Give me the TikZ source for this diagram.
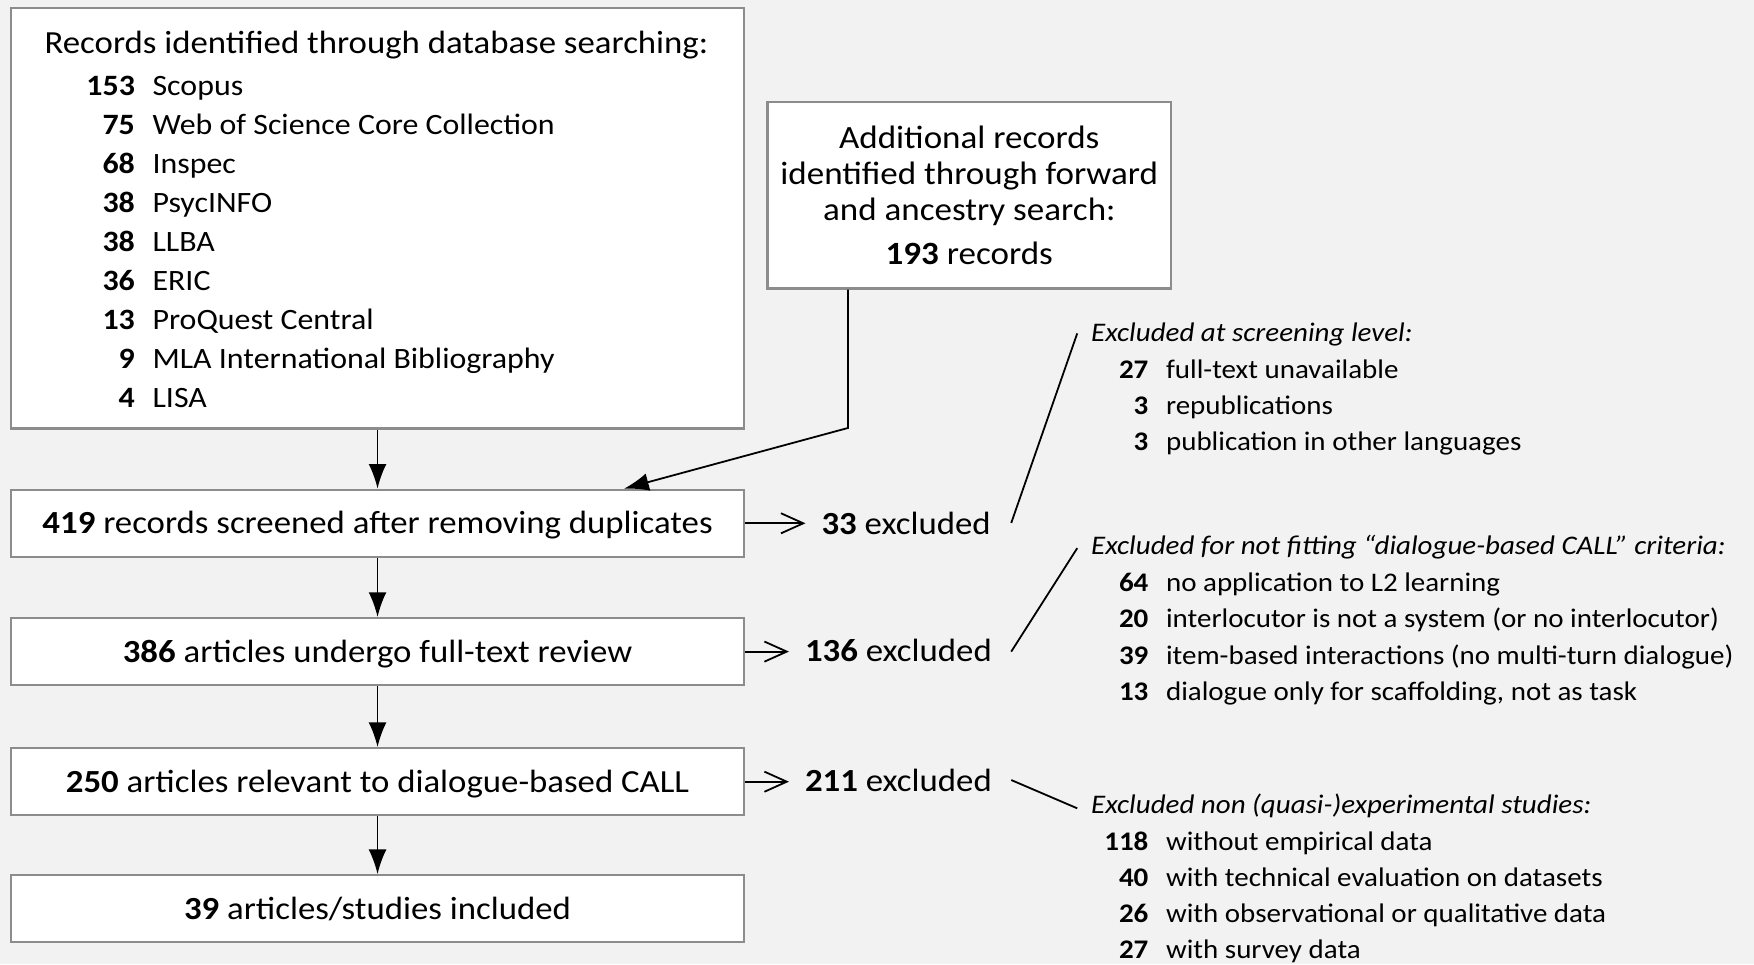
\documentclass[tikz,border=0pt]{standalone}
\usepackage{fontspec}
\setmainfont{Carlito}[FakeStretch=1.08]
\usetikzlibrary{arrows.meta}

\definecolor{pagebg}{HTML}{F2F2F2}
\definecolor{boxline}{HTML}{8C8C8C}

\tikzset{
    box/.style={draw=boxline, line width=1pt, fill=white, inner sep=0pt, font=\fontsize{14.4}{16.25}\selectfont},
    stage/.style={box, minimum width=327.5pt, minimum height=30pt, text height=13pt, text depth=3.7pt},
    flow/.style={-{Latex[length=11pt,width=8pt]}, line width=0.8pt},
    side/.style={-{Straight Barb[length=10pt,width=9pt]}, line width=0.8pt, shorten >=7pt},
    lead/.style={line width=0.8pt},
    bigtxt/.style={inner sep=0pt, font=\fontsize{14.4}{16}\selectfont},
    listtxt/.style={inner sep=0pt, font=\fontsize{13.2}{16}\selectfont},
    smalltxt/.style={inner sep=0pt, font=\fontsize{12}{14}\selectfont},
    smallhead/.style={smalltxt, font=\fontsize{12}{14}\selectfont\itshape},
}

\begin{document}
\begin{tikzpicture}[x=0.5pt, y=-0.5pt]
            \fill[pagebg] (0,0) rectangle (1568,862);

            \node[box, minimum width=327.5pt, minimum height=188pt] (db) at (337.5,195) {};
            \node[bigtxt, anchor=base] (dbhead) at (336.5,47.5) {Records identified through database searching:};
            \foreach \n/\name [count=\i from 0] in {153/Scopus, 75/Web of Science Core Collection, 68/Inspec, 38/PsycINFO, 38/LLBA, 36/ERIC, 13/ProQuest Central, 9/MLA International Bibliography, 4/LISA} {
                \node[listtxt, anchor=base east] (dbnum\i) at (121,85+34.9*\i) {\textbf{\n}};
                \node[listtxt, anchor=base west] (dbname\i) at (136,85+34.9*\i) {\name};
            }

            \node[box, align=center, minimum width=180.5pt, minimum height=83.5pt, font=\fontsize{14.5}{16.25}\selectfont] (extra) at (866.5,174.5) {Additional records\\identified through forward\\and ancestry search:\\[3.25pt]\textbf{193} records};

            \node[stage] (screened) at (337.5,467.8) {\textbf{419} records screened after removing duplicates};
            \node[stage] (fulltext) at (337.5,582.5) {\textbf{386} articles undergo full-text review};
            \node[stage] (relevant) at (337.5,698.8) {\textbf{250} articles relevant to dialogue-based CALL};
            \node[stage] (included) at (337.5,812.4) {\textbf{39} articles/studies included};

            \draw[flow] (db) -- (screened);
            \draw[flow] (screened) -- (fulltext);
            \draw[flow] (fulltext) -- (relevant);
            \draw[flow] (relevant) -- (included);

            \coordinate (bend) at (758,382.6);
            \coordinate (merge) at (558,0);
            \draw[flow] (extra.south -| bend) -- (bend) -- (screened.north -| merge);

            \node[bigtxt, anchor=base east] (exc1) at (886,477.8) {\textbf{33} excluded};
            \node[bigtxt, anchor=base east] (exc2) at (887,591) {\textbf{136} excluded};
            \node[bigtxt, anchor=base east] (exc3) at (887,707.4) {\textbf{211} excluded};

            \draw[side] (screened.east) -- (screened.east -| exc1.west);
            \draw[side] (fulltext.east) -- (fulltext.east -| exc2.west);
            \draw[side] (relevant.east) -- (relevant.east -| exc3.west);

            \node[smallhead, anchor=base west] (scrhead) at (975,305.5) {Excluded at screening level:};
            \foreach \n/\name [count=\i from 0] in {27/full-text unavailable, 3/republications, 3/publication in other languages} {
                \node[smalltxt, anchor=base east] (scrnum\i) at (1027,338+32.4*\i) {\textbf{\n}};
                \node[smalltxt, anchor=base west] (scrname\i) at (1042,338+32.4*\i) {\name};
            }

            \node[smallhead, anchor=base west] (fithead) at (975,496) {Excluded for not fitting “dialogue-based CALL” criteria:};
            \foreach \n/\name [count=\i from 0] in {64/no application to L2 learning, 20/interlocutor is not a system (or no interlocutor), 39/item-based interactions (no multi-turn dialogue), 13/{dialogue only for scaffolding, not as task}} {
                \node[smalltxt, anchor=base east] (fitnum\i) at (1027,529+32.3*\i) {\textbf{\n}};
                \node[smalltxt, anchor=base west] (fitname\i) at (1042,529+32.3*\i) {\name};
            }

            \node[smallhead, anchor=base west] (exphead) at (975,727) {Excluded non (quasi-)experimental studies:};
            \foreach \n/\name [count=\i from 0] in {118/without empirical data, 40/with technical evaluation on datasets, 26/with observational or qualitative data, 27/with survey data} {
                \node[smalltxt, anchor=base east] (expnum\i) at (1027,760+32.2*\i) {\textbf{\n}};
                \node[smalltxt, anchor=base west] (expname\i) at (1042,760+32.2*\i) {\name};
            }

            \coordinate (lead1a) at (904,467.5);
            \coordinate (lead1b) at (963,298);
            \coordinate (lead2a) at (904,582.5);
            \coordinate (lead2b) at (963,490);
            \coordinate (lead3a) at (904,697.3);
            \coordinate (lead3b) at (963,722.6);
            \draw[lead] (lead1a) -- (lead1b);
            \draw[lead] (lead2a) -- (lead2b);
            \draw[lead] (lead3a) -- (lead3b);
        \end{tikzpicture}
\end{document}
